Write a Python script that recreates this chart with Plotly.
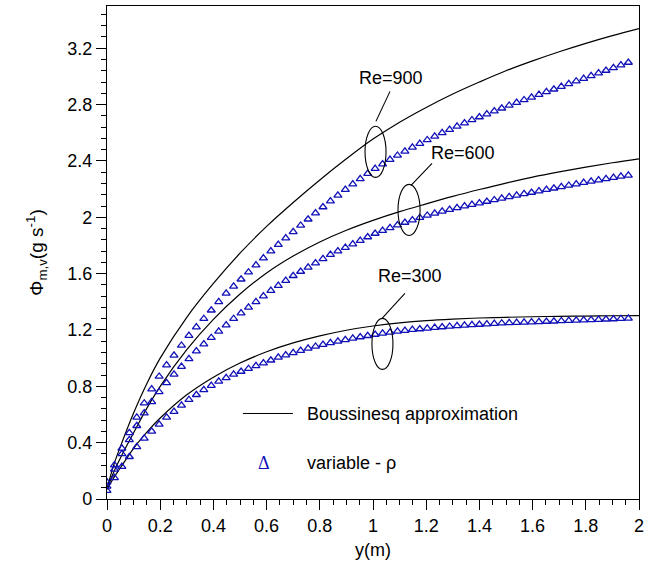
import plotly.graph_objects as go

# ---------------- data ----------------
# Boussinesq approximation (solid lines)
LINE_Y = [0, 0.025, 0.05, 0.1, 0.15, 0.2, 0.3, 0.4, 0.5, 0.6, 0.7, 0.8, 0.9, 1.0,
          1.1, 1.2, 1.3, 1.4, 1.5, 1.6, 1.7, 1.8, 1.9, 2.0]
BOUSS_900 = [0.07, 0.24, 0.37, 0.61, 0.82, 1.00, 1.29, 1.53, 1.745, 1.935, 2.105, 2.265, 2.415, 2.555,
             2.675, 2.78, 2.875, 2.96, 3.04, 3.11, 3.175, 3.235, 3.29, 3.34]
BOUSS_600 = [0.07, 0.19, 0.29, 0.47, 0.645, 0.80, 1.06, 1.275, 1.455, 1.605, 1.725, 1.825, 1.908, 1.978,
             2.04, 2.095, 2.148, 2.197, 2.243, 2.285, 2.322, 2.356, 2.387, 2.415]
BOUSS_300 = [0.07, 0.15, 0.22, 0.36, 0.475, 0.575, 0.74, 0.865, 0.965, 1.045, 1.108, 1.158, 1.198, 1.228,
             1.25, 1.266, 1.277, 1.285, 1.29, 1.294, 1.297, 1.299, 1.301, 1.302]

# variable-density results (triangles)
VAR_Y = [0, 0.028, 0.056, 0.084, 0.112, 0.14, 0.168, 0.196, 0.224, 0.252, 0.28, 0.308,
         0.336, 0.364, 0.392, 0.42, 0.448, 0.476, 0.504, 0.532, 0.56, 0.588, 0.616, 0.644,
         0.672, 0.7, 0.728, 0.756, 0.784, 0.812, 0.84, 0.868, 0.896, 0.924, 0.952, 0.98,
         1.008, 1.036, 1.064, 1.092, 1.12, 1.148, 1.176, 1.204, 1.232, 1.26, 1.288, 1.316,
         1.344, 1.372, 1.4, 1.428, 1.456, 1.484, 1.512, 1.54, 1.568, 1.596, 1.624, 1.652,
         1.68, 1.708, 1.736, 1.764, 1.792, 1.82, 1.848, 1.876, 1.904, 1.932, 1.96]
VAR_900 = [0.12, 0.24, 0.36, 0.47, 0.58, 0.68, 0.78, 0.87, 0.95, 1.02, 1.09, 1.16,
           1.22, 1.28, 1.34, 1.40, 1.46, 1.51, 1.56, 1.61, 1.66, 1.71, 1.76, 1.806,
           1.852, 1.897, 1.942, 1.986, 2.03, 2.073, 2.115, 2.156, 2.196, 2.235, 2.273, 2.31,
           2.346, 2.378, 2.409, 2.439, 2.468, 2.496, 2.523, 2.549, 2.574, 2.599, 2.623, 2.646,
           2.669, 2.691, 2.712, 2.733, 2.754, 2.774, 2.794, 2.814, 2.833, 2.852, 2.871, 2.89,
           2.909, 2.928, 2.947, 2.966, 2.985, 3.004, 3.023, 3.042, 3.061, 3.08, 3.099]
VAR_600 = [0.09, 0.21, 0.32, 0.42, 0.52, 0.61, 0.69, 0.76, 0.825, 0.885, 0.94, 0.995,
           1.05, 1.10, 1.145, 1.19, 1.235, 1.28, 1.32, 1.36, 1.40, 1.44, 1.48, 1.515,
           1.55, 1.585, 1.615, 1.645, 1.675, 1.705, 1.735, 1.76, 1.785, 1.81, 1.835, 1.86,
           1.885, 1.905, 1.925, 1.945, 1.963, 1.98, 1.997, 2.013, 2.028, 2.042, 2.055, 2.067,
           2.079, 2.09, 2.101, 2.112, 2.123, 2.134, 2.145, 2.156, 2.166, 2.176, 2.186, 2.196,
           2.206, 2.216, 2.226, 2.236, 2.246, 2.255, 2.264, 2.273, 2.282, 2.29, 2.298]
VAR_300 = [0.06, 0.15, 0.23, 0.30, 0.37, 0.43, 0.48, 0.53, 0.58, 0.62, 0.665, 0.705,
           0.74, 0.775, 0.805, 0.835, 0.86, 0.885, 0.905, 0.925, 0.945, 0.965, 0.985, 1.005,
           1.022, 1.038, 1.054, 1.069, 1.083, 1.096, 1.108, 1.119, 1.13, 1.14, 1.15, 1.159,
           1.168, 1.176, 1.183, 1.19, 1.196, 1.202, 1.207, 1.212, 1.217, 1.221, 1.225, 1.229,
           1.233, 1.236, 1.239, 1.242, 1.245, 1.248, 1.25, 1.252, 1.254, 1.256, 1.258, 1.26,
           1.262, 1.264, 1.266, 1.268, 1.27, 1.272, 1.274, 1.276, 1.278, 1.28, 1.282]

RE_LABELS = ["Re=900", "Re=600", "Re=300"]
X_TICKS = [0, 0.2, 0.4, 0.6, 0.8, 1, 1.2, 1.4, 1.6, 1.8, 2]
Y_TICKS = [0, 0.4, 0.8, 1.2, 1.6, 2, 2.4, 2.8, 3.2]
LEGEND_TEXT = ["Boussinesq approximation", "variable - ρ"]

FONT = "Liberation Sans, Arial, Helvetica, sans-serif"
BLUE = "#1010b8"

fig = go.Figure()
for yv in (BOUSS_900, BOUSS_600, BOUSS_300):
    fig.add_trace(go.Scatter(x=LINE_Y, y=yv, mode="lines",
                             line=dict(color="black", width=1.2, shape="spline", smoothing=1.0),
                             showlegend=False, hoverinfo="skip"))
for yv in (VAR_900, VAR_600, VAR_300):
    fig.add_trace(go.Scatter(x=VAR_Y, y=yv, mode="markers",
                             marker=dict(symbol="triangle-up-open", size=7,
                                         color=BLUE, line=dict(width=1.3, color=BLUE)),
                             showlegend=False, hoverinfo="skip"))

# Re labels, leader lines and ellipses
ann = [
    # (label, text x, text y, leader x0, y0, x1, y1, ellipse x0, x1, y0, y1)
    (RE_LABELS[0], 1.066, 2.990, 1.064, 2.894, 1.011, 2.681, 0.970, 1.049, 2.283, 2.646),
    (RE_LABELS[1], 1.338, 2.454, 1.222, 2.383, 1.143, 2.227, 1.094, 1.177, 1.871, 2.234),
    (RE_LABELS[2], 1.139, 1.580, 1.120, 1.460, 1.034, 1.282, 0.996, 1.075, 0.920, 1.282),
]
for lab, tx, ty, lx0, ly0, lx1, ly1, ex0, ex1, ey0, ey1 in ann:
    fig.add_annotation(x=tx, y=ty, text=lab, showarrow=False,
                       font=dict(family=FONT, size=18, color="black"))
    fig.add_shape(type="line", x0=lx0, y0=ly0, x1=lx1, y1=ly1,
                  line=dict(color="black", width=1.1))
    fig.add_shape(type="circle", x0=ex0, x1=ex1, y0=ey0, y1=ey1,
                  line=dict(color="black", width=1.1))

# custom legend
fig.add_shape(type="line", x0=0.511, x1=0.699, y0=0.607, y1=0.607,
              line=dict(color="black", width=1.2))
fig.add_annotation(x=0.744, y=0.607, text=LEGEND_TEXT[0], showarrow=False,
                   xanchor="left", font=dict(family=FONT, size=18, color="black"))
fig.add_annotation(x=0.59, y=0.255, text="Δ", showarrow=False,
                   font=dict(family="Liberation Serif, serif", size=18, color=BLUE))
fig.add_annotation(x=0.744, y=0.255, text=LEGEND_TEXT[1], showarrow=False,
                   xanchor="left", font=dict(family=FONT, size=18, color="black"))

axis_common = dict(showline=True, linecolor="black", linewidth=1.3, mirror=True,
                   ticks="outside", ticklen=10, tickwidth=1.2, tickcolor="black",
                   showgrid=False, zeroline=False,
                   tickfont=dict(family=FONT, size=18, color="black"))

fig.update_xaxes(range=[0, 2], tickvals=X_TICKS,
                 minor=dict(dtick=0.05, ticklen=5, tickwidth=1, tickcolor="black",
                            ticks="outside", showgrid=False),
                 title=dict(text="y(m)", font=dict(family=FONT, size=18, color="black"),
                            standoff=8),
                 **axis_common)
fig.update_yaxes(range=[0, 3.5], tickvals=Y_TICKS,
                 minor=dict(dtick=0.08, ticklen=5, tickwidth=1, tickcolor="black",
                            ticks="outside", showgrid=False),
                 title=dict(text="Φ<sub>m,v</sub>(g s<sup>-1</sup>)",
                            font=dict(family=FONT, size=19, color="black"), standoff=18),
                 **axis_common)

fig.update_layout(width=661, height=573, margin=dict(l=107, r=22, t=6, b=74),
                  plot_bgcolor="white", paper_bgcolor="white", showlegend=False)

fig.write_html("out.html")
